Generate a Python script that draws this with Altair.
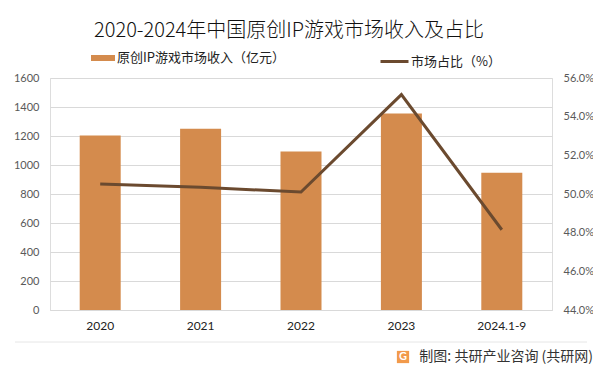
import altair as alt
import pandas as pd

years = ["2020", "2021", "2022", "2023", "2024.1-9"]
revenue = [1203, 1250, 1093, 1355, 947]
share = [0.5052, 0.5035, 0.5010, 0.5514, 0.4815]

bar_label = "原创IP游戏市场收入（亿元）"
line_label = "市场占比（%）"
title_text = "2020-2024年中国原创IP游戏市场收入及占比"
footer_text = "制图: 共研产业咨询 (共研网)"

df = pd.DataFrame({"year": years, "revenue": revenue, "share": share,
                   "s1": [bar_label] * 5, "s2": [line_label] * 5})

CJK = "Noto Sans CJK SC"
NUM = "Lato"
W, H = 502, 232

x_enc = alt.X("year:N", sort=years, title=None,
              scale=alt.Scale(paddingInner=0, paddingOuter=0),
              axis=alt.Axis(labelAngle=0, labelFont=NUM, labelFontSize=12,
                            labelColor="#222222", labelPadding=10, ticks=False,
                            domainColor="#D9D9D9", domainWidth=1))

bars = alt.Chart(df).mark_bar(size=41).encode(
    x=x_enc,
    y=alt.Y("revenue:Q", title=None,
            scale=alt.Scale(domain=[0, 1600], nice=False),
            axis=alt.Axis(values=list(range(0, 1601, 200)), format="d", labelFont=NUM,
                          labelFontSize=11, labelColor="#595959", labelPadding=11,
                          ticks=False, domain=False, gridColor="#D9D9D9",
                          gridWidth=1)),
    color=alt.Color("s1:N", scale=alt.Scale(domain=[bar_label], range=["#D48B4D"]),
                    legend=alt.Legend(orient="none", legendX=41, legendY=-32,
                                      title=None, padding=0, offset=0,
                                      symbolType="M-1,-0.25H1V0.25H-1Z",
                                      symbolSize=576, symbolStrokeWidth=0,
                                      labelFont=CJK, labelFontSize=13, labelLimit=0,
                                      labelColor="#222222", labelOffset=2)),
)

line = alt.Chart(df).mark_line(strokeWidth=3).encode(
    x=alt.X("year:N", sort=years),
    y=alt.Y("share:Q", title=None,
            scale=alt.Scale(domain=[0.44, 0.56], nice=False, zero=False),
            axis=alt.Axis(orient="right", values=[0.44, 0.46, 0.48, 0.50, 0.52, 0.54, 0.56],
                          format=".1%", labelFont=NUM, labelFontSize=11,
                          labelColor="#595959", labelPadding=11, ticks=False,
                          domain=False, grid=False)),
    stroke=alt.Stroke("s2:N", scale=alt.Scale(domain=[line_label], range=["#6B4A2F"]),
                      legend=alt.Legend(orient="none", legendX=329, legendY=-32,
                                        title=None, padding=0, offset=0,
                                        symbolType="stroke", symbolSize=784,
                                        symbolStrokeWidth=3, labelLimit=0,
                                        labelFont=CJK, labelFontSize=13,
                                        labelColor="#222222", labelOffset=1)),
)

title = alt.Chart(pd.DataFrame({"t": [title_text]})).mark_text(
    font=CJK, fontSize=20, fontWeight=300, color="#111111", align="center", baseline="middle"
).encode(x=alt.value(239), y=alt.value(-47), text="t:N")

sep = alt.Chart(pd.DataFrame({"a": [0]})).mark_rule(color="#E6E6E6", strokeWidth=1).encode(
    x=alt.value(-35), x2=alt.value(537), y=alt.value(264))

footer = alt.Chart(pd.DataFrame({"t": [footer_text]})).mark_text(
    font=CJK, fontSize=14, color="#333333", align="right", baseline="middle"
).encode(x=alt.value(543), y=alt.value(279), text="t:N")

icon = alt.Chart(pd.DataFrame({"t": ["G"]})).mark_square(
    size=150, color="#F29A4B", opacity=1
).encode(x=alt.value(353), y=alt.value(279))

icon_t = alt.Chart(pd.DataFrame({"t": ["G"]})).mark_text(
    font=NUM, fontSize=11, fontWeight="bold", color="white", align="center",
    baseline="middle"
).encode(x=alt.value(353), y=alt.value(279), text="t:N")

chart = alt.layer(bars, line, title, sep, footer, icon, icon_t).resolve_scale(
    y="independent", color="independent"
).properties(
    width=W, height=H,
    autosize=alt.AutoSizeParams(type="none"),
    padding={"left": 42, "top": 70, "right": 41, "bottom": 56},
).configure_view(stroke=None).configure(background="white")

chart.save("out.html", embed_options={"renderer": "svg", "actions": False})
